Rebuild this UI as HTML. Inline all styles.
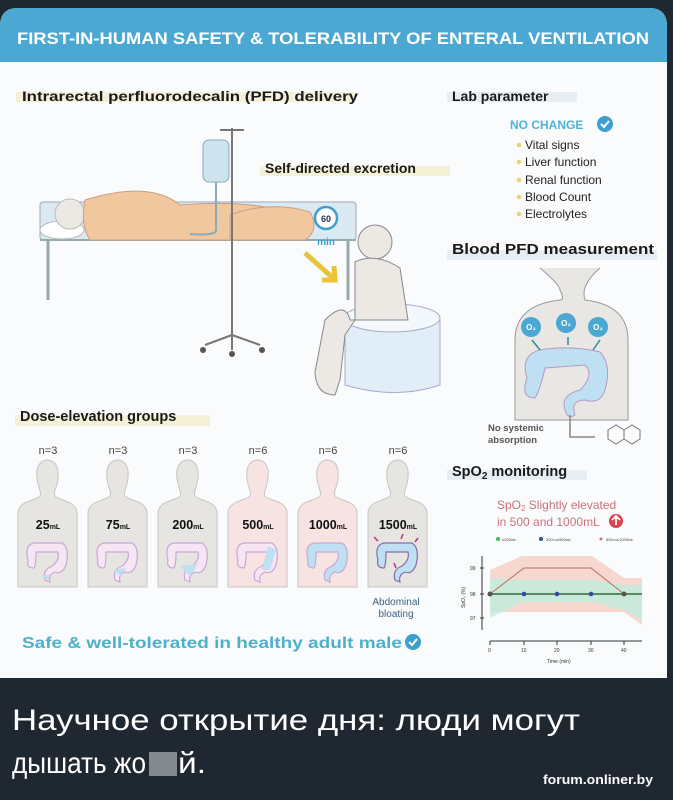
<!DOCTYPE html>
<html><head><meta charset="utf-8"><style>
html,body{margin:0;padding:0;background:#1f2731;}
svg{display:block}
text{font-family:"Liberation Sans",Arial,sans-serif;}
.cap{font-family:"Liberation Sans Narrow","Liberation Sans",Arial,sans-serif;}
</style></head><body>
<svg width="673" height="800" viewBox="0 0 673 800" xmlns="http://www.w3.org/2000/svg">
<rect width="673" height="800" fill="#1f2731"/>
<path d="M18 8 H649 Q667 8 667 26 V678 H0 V26 Q0 8 18 8Z" fill="#f9fbfc"/>
<path d="M18 8 H649 Q667 8 667 26 V62 H0 V26 Q0 8 18 8Z" fill="#4aa8d3"/>
<text x="333" y="44" font-size="16.5" font-weight="bold" fill="#fff" text-anchor="middle" textLength="632" lengthAdjust="spacingAndGlyphs">FIRST-IN-HUMAN SAFETY &amp; TOLERABILITY OF ENTERAL VENTILATION</text>

<rect x="16" y="92" width="340" height="10" fill="#f5f0d8"/>
<text x="22" y="101" font-size="14" font-weight="bold" fill="#1a1a1a" textLength="336" lengthAdjust="spacingAndGlyphs">Intrarectal perfluorodecalin (PFD) delivery</text>
<rect x="447" y="92" width="130" height="10" fill="#e6eef3"/>
<text x="452" y="101" font-size="14" font-weight="bold" fill="#1a1a1a">Lab parameter</text>
<text x="510" y="129" font-size="12" font-weight="bold" fill="#4fb3d6">NO CHANGE</text>
<circle cx="605" cy="124" r="8" fill="#3c9fd0"/><path d="M601 124 l3 3 l5 -6" stroke="#fff" stroke-width="2" fill="none"/>
<g font-size="12" fill="#222">
<circle cx="519" cy="145" r="2.3" fill="#e8d57a"/><text x="525" y="149">Vital signs</text>
<circle cx="519" cy="162" r="2.3" fill="#e8d57a"/><text x="525" y="166">Liver function</text>
<circle cx="519" cy="180" r="2.3" fill="#e8d57a"/><text x="525" y="184">Renal function</text>
<circle cx="519" cy="197" r="2.3" fill="#e8d57a"/><text x="525" y="201">Blood Count</text>
<circle cx="519" cy="214" r="2.3" fill="#e8d57a"/><text x="525" y="218">Electrolytes</text>
</g>
<rect x="260" y="166" width="190" height="10" fill="#f5f0d8"/>
<text x="265" y="173" font-size="14" font-weight="bold" fill="#1a1a1a">Self-directed excretion</text>
<rect x="447" y="250" width="210" height="10" fill="#e6eef3"/>
<text x="452" y="254" font-size="14.5" font-weight="bold" fill="#1a1a1a" textLength="202" lengthAdjust="spacingAndGlyphs">Blood PFD measurement</text>

<rect x="40" y="202" width="316" height="38" rx="3" fill="#dbe9f3" stroke="#9ab" stroke-width="1"/>
<path d="M48 240 V300 M348 240 V300" stroke="#9aa" stroke-width="3"/>
<path d="M40 240 H356" stroke="#9aa" stroke-width="2"/>
<ellipse cx="62" cy="230" rx="22" ry="9" fill="#fff" stroke="#bbb"/>
<circle cx="70" cy="214" r="15" fill="#ece9e4" stroke="#bbb"/>
<path d="M85 200 Q150 180 180 205 Q240 200 280 210 Q300 225 280 240 H90 Q80 225 85 200Z" fill="#f1c7a0" stroke="#c9a080"/>
<path d="M230 215 Q270 200 310 212 Q320 230 305 240 H230Z" fill="#f1c7a0" stroke="#c9a080"/>
<path d="M232 128 V335 M220 130 H244" stroke="#777" stroke-width="2" fill="none"/>
<rect x="203" y="140" width="26" height="42" rx="6" fill="#cfe3ef" stroke="#8ab"/>
<path d="M216 182 V230 Q216 236 190 234" stroke="#8ab" stroke-width="2" fill="none"/>
<path d="M232 335 L205 345 M232 335 L260 345 M232 335 L232 350" stroke="#777" stroke-width="2"/>
<circle cx="203" cy="350" r="3" fill="#555"/><circle cx="262" cy="350" r="3" fill="#555"/><circle cx="232" cy="354" r="3" fill="#555"/>
<circle cx="326" cy="218" r="11" fill="#fff" stroke="#3c9fd0" stroke-width="2.5"/>
<text x="326" y="222" font-size="9" font-weight="bold" fill="#235" text-anchor="middle">60</text>
<text x="326" y="245" font-size="10" font-weight="bold" fill="#3c9fd0" text-anchor="middle">min</text>
<path d="M305 253 L333 278 M322 280 L335 280 L334 266" stroke="#e8c43a" stroke-width="5" fill="none"/>
<path d="M345 320 Q395 300 440 320 V385 Q395 400 345 385Z" fill="#e2eef7" stroke="#aac"/>
<ellipse cx="392" cy="318" rx="48" ry="14" fill="#f3f8fc" stroke="#aac"/>
<circle cx="375" cy="242" r="17" fill="#ece9e4" stroke="#888"/>
<path d="M355 262 Q375 252 400 268 L408 320 H350 Q345 300 325 320 L315 372 Q316 395 335 395 L340 380 L345 335 L355 320Z" fill="#ece9e4" stroke="#888"/>

<path d="M540 268 Q560 285 560 290 Q565 300 560 300 Q515 305 515 340 V420 H628 V340 Q628 305 585 300 Q580 285 600 268" fill="#e9e7e4" stroke="#999"/>
<g fill="#4aa8d3"><circle cx="531" cy="327" r="10"/><circle cx="566" cy="323" r="10"/><circle cx="598" cy="327" r="10"/></g>
<g font-size="8" font-weight="bold" fill="#fff" text-anchor="middle"><text x="531" y="330">O₂</text><text x="566" y="326">O₂</text><text x="598" y="330">O₂</text></g>
<path d="M527 378 Q520 355 540 350 Q570 345 600 352 Q612 365 605 390 Q600 405 585 400 Q570 400 575 415 Q568 420 565 410 Q560 395 580 390 Q595 375 585 365 L545 368 Q540 390 535 398 Q520 398 527 378Z" fill="#bfe0f3" stroke="#b49ac5"/>
<path d="M540 350 L532 340 M568 345 V337 M593 350 L600 340" stroke="#2a8a9a" stroke-width="1.5"/>
<path d="M570 415 V437 H595" stroke="#888" stroke-width="1.5" fill="none"/>
<text x="488" y="431" font-size="9.5" font-weight="bold" fill="#555">No systemic</text>
<text x="488" y="443" font-size="9.5" font-weight="bold" fill="#555">absorption</text>
<g stroke="#777" fill="none" stroke-width="1"><path d="M608 430 l8 -5 l8 5 v9 l-8 5 l-8 -5z M624 430 l8 -5 l8 5 v9 l-8 5 l-8 -5z"/></g>

<rect x="447" y="470" width="140" height="10" fill="#e6eef3"/>
<text x="452" y="476" font-size="14.5" font-weight="bold" fill="#1a1a1a">SpO<tspan font-size="10" dy="3">2</tspan><tspan dy="-3"> monitoring</tspan></text>
<text x="497" y="509" font-size="12" fill="#c9727a">SpO<tspan font-size="8" dy="2">2</tspan><tspan dy="-2"> Slightly elevated</tspan></text>
<text x="497" y="526" font-size="12" fill="#c9727a">in 500 and 1000mL</text>
<circle cx="616" cy="521" r="7" fill="#d9444f"/><path d="M616 525 V517 M612 520 l4 -4 l4 4" stroke="#fff" stroke-width="1.8" fill="none"/>
<g font-size="4" fill="#444"><circle cx="498" cy="539" r="2" fill="#3bba55"/><text x="502" y="541">≤200mL</text><circle cx="541" cy="539" r="2" fill="#2a4fa0"/><text x="546" y="541">200&lt;x≤500mL</text><circle cx="601" cy="539" r="1.5" fill="#c97a6a"/><text x="606" y="541">500&lt;x≤1000mL</text></g>
<path d="M490 570 L522 556 H592 L624 578 H642 V625 L624 612 H490Z" fill="#f6cfc4" opacity="0.8"/>
<path d="M490 578 L522 580 H592 L624 585 H642 V620 L624 610 L592 602 H522 L490 618Z" fill="#bfeedd" opacity="0.8"/>
<path d="M490 594 L524 568 H591 L624 594" stroke="#b07060" fill="none"/>
<path d="M490 594 H642" stroke="#2f6a3a" stroke-width="1.5"/>
<g fill="#2a4fa0"><circle cx="524" cy="594" r="2.3"/><circle cx="557" cy="594" r="2.3"/><circle cx="591" cy="594" r="2.3"/></g>
<circle cx="490" cy="594" r="2.5" fill="#555"/><circle cx="624" cy="594" r="2.5" fill="#555"/>
<path d="M482 556 V630 M480 568 H484 M480 594 H484 M480 618 H484" stroke="#333" stroke-width="1"/>
<path d="M490 641 H642 M490 641 v4 M524 641 v4 M557 641 v4 M591 641 v4 M624 641 v4" stroke="#333"/>
<g font-size="5" fill="#333"><text x="470" y="570">99</text><text x="470" y="596">98</text><text x="470" y="620">97</text>
<text x="488" y="652">0</text><text x="521" y="652">10</text><text x="554" y="652">20</text><text x="588" y="652">30</text><text x="621" y="652">40</text>
<text x="547" y="663">Time (min)</text><text x="0" y="0" transform="translate(465,608) rotate(-90)">SpO₂ (%)</text></g>

<rect x="15" y="415" width="195" height="11" fill="#f5f0d8"/>
<text x="20" y="421" font-size="14.5" font-weight="bold" fill="#1a1a1a">Dose-elevation groups</text>
<g font-size="11" fill="#444" text-anchor="middle">
<text x="48" y="454">n=3</text><text x="118" y="454">n=3</text><text x="188" y="454">n=3</text><text x="258" y="454">n=6</text><text x="328" y="454">n=6</text><text x="398" y="454">n=6</text>
</g>
<g stroke="#c9c6c2" stroke-width="1">
<path d="M48 460 c-10 0 -12 10 -11 18 c1 10 5 14 3 18 c-4 5 -20 4 -22 16 V587 H77 V512 c-2 -12 -18 -11 -22 -16 c-2 -4 2 -8 3 -18 c1 -8 -1 -18 -11 -18Z" fill="#e7e5e2"/>
<path d="M48 460 c-10 0 -12 10 -11 18 c1 10 5 14 3 18 c-4 5 -20 4 -22 16 V587 H77 V512 c-2 -12 -18 -11 -22 -16 c-2 -4 2 -8 3 -18 c1 -8 -1 -18 -11 -18Z" fill="#e7e5e2" transform="translate(70,0)"/>
<path d="M48 460 c-10 0 -12 10 -11 18 c1 10 5 14 3 18 c-4 5 -20 4 -22 16 V587 H77 V512 c-2 -12 -18 -11 -22 -16 c-2 -4 2 -8 3 -18 c1 -8 -1 -18 -11 -18Z" fill="#e7e5e2" transform="translate(140,0)"/>
<path d="M48 460 c-10 0 -12 10 -11 18 c1 10 5 14 3 18 c-4 5 -20 4 -22 16 V587 H77 V512 c-2 -12 -18 -11 -22 -16 c-2 -4 2 -8 3 -18 c1 -8 -1 -18 -11 -18Z" fill="#f8e3e3" transform="translate(210,0)"/>
<path d="M48 460 c-10 0 -12 10 -11 18 c1 10 5 14 3 18 c-4 5 -20 4 -22 16 V587 H77 V512 c-2 -12 -18 -11 -22 -16 c-2 -4 2 -8 3 -18 c1 -8 -1 -18 -11 -18Z" fill="#f8e3e3" transform="translate(280,0)"/>
<path d="M48 460 c-10 0 -12 10 -11 18 c1 10 5 14 3 18 c-4 5 -20 4 -22 16 V587 H77 V512 c-2 -12 -18 -11 -22 -16 c-2 -4 2 -8 3 -18 c1 -8 -1 -18 -11 -18Z" fill="#e7e5e2" transform="translate(350,0)"/>
</g>
<g font-size="12.5" font-weight="bold" fill="#111" text-anchor="middle">
<text x="48" y="529">25<tspan font-size="7">mL</tspan></text>
<text x="118" y="529">75<tspan font-size="7">mL</tspan></text>
<text x="188" y="529">200<tspan font-size="7">mL</tspan></text>
<text x="258" y="529">500<tspan font-size="7">mL</tspan></text>
<text x="328" y="529">1000<tspan font-size="7">mL</tspan></text>
<text x="398" y="529">1500<tspan font-size="7">mL</tspan></text>
</g>
<g stroke="#c9a8d8" stroke-width="1.2">
<path d="M28 560 Q24 545 34 543 H62 Q70 548 66 565 Q62 575 55 572 Q48 575 50 582 L45 580 Q42 570 52 566 Q60 560 58 552 H36 Q36 565 34 568 Q26 568 28 560Z" fill="#f6e6f3"/>
<path d="M98 560 Q94 545 104 543 H132 Q140 548 136 565 Q132 575 125 572 Q118 575 120 582 L115 580 Q112 570 122 566 Q130 560 128 552 H106 Q106 565 104 568 Q96 568 98 560Z" fill="#f6e6f3"/>
<path d="M168 560 Q164 545 174 543 H202 Q210 548 206 565 Q202 575 195 572 Q188 575 190 582 L185 580 Q182 570 192 566 Q200 560 198 552 H176 Q176 565 174 568 Q166 568 168 560Z" fill="#f6e6f3"/>
<path d="M238 560 Q234 545 244 543 H272 Q280 548 276 565 Q272 575 265 572 Q258 575 260 582 L255 580 Q252 570 262 566 Q270 560 268 552 H246 Q246 565 244 568 Q236 568 238 560Z" fill="#f6e6f3"/>
<path d="M308 560 Q304 545 314 543 H342 Q350 548 346 565 Q342 575 335 572 Q328 575 330 582 L325 580 Q322 570 332 566 Q340 560 338 552 H316 Q316 565 314 568 Q306 568 308 560Z" fill="#bfe0f3"/>
<path d="M378 560 Q374 545 384 543 H412 Q420 548 416 565 Q412 575 405 572 Q398 575 400 582 L395 580 Q392 570 402 566 Q410 560 408 552 H386 Q386 565 384 568 Q376 568 378 560Z" fill="#bfe0f3" stroke="#8a6aa8"/>
</g>
<path d="M43 576 l5 4 l3 -6z M113 570 l8 6 l5 -8z M180 566 l10 10 l8 -12z M268 546 L276 550 L270 570 L262 570z" fill="#bfe0f3"/>
<path d="M374 537 l4 4 M403 534 l-2 5 M418 538 l-3 4 M396 568 l-2 -5" stroke="#c0307a" stroke-width="1.5"/>
<text x="396" y="605" font-size="10" fill="#3b6480" text-anchor="middle">Abdominal</text>
<text x="396" y="617" font-size="10" fill="#3b6480" text-anchor="middle">bloating</text>
<text x="22" y="648" font-size="16" font-weight="bold" fill="#4eb1c8" textLength="380" lengthAdjust="spacingAndGlyphs">Safe &amp; well-tolerated in healthy adult male</text>
<circle cx="413" cy="642" r="8" fill="#3c9fd0"/><path d="M409 642 l3 3 l5 -6" stroke="#fff" stroke-width="2" fill="none"/>

<text class="cap" x="12" y="730" font-size="30" fill="#fff" textLength="568" lengthAdjust="spacingAndGlyphs">Научное открытие дня: люди могут</text>
<text class="cap" x="12" y="773" font-size="30" fill="#fff" textLength="134" lengthAdjust="spacingAndGlyphs">дышать жо</text>
<rect x="149" y="752" width="28" height="24" fill="#c8ccd0" opacity="0.6"/>
<text class="cap" x="178" y="773" font-size="30" fill="#fff" textLength="28" lengthAdjust="spacingAndGlyphs">й.</text>
<text class="cap" x="543" y="784" font-size="13" font-weight="bold" fill="#fff" textLength="110" lengthAdjust="spacingAndGlyphs">forum.onliner.by</text>
</svg>
</body></html>
